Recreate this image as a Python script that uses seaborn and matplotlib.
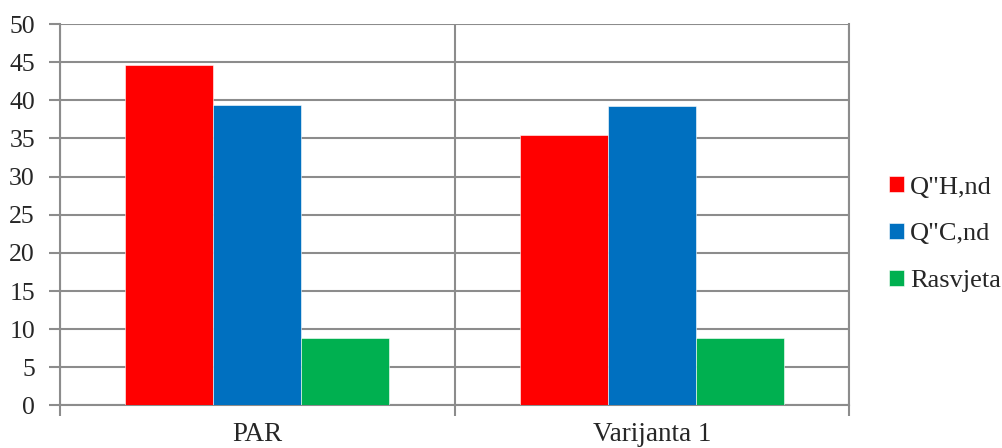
import pandas as pd
import seaborn as sns
import matplotlib.pyplot as plt
from matplotlib.ticker import FixedLocator, MultipleLocator

categories = ['PAR', 'Varijanta 1']
series = ['Q"H,nd', 'Q"C,nd', 'Rasvjeta']
q_h = [44.6, 35.4]
q_c = [39.4, 39.3]
rasvjeta = [8.9, 8.9]
colors = ['#FF0000', '#0070C0', '#00B050']

rows = []
for name, vals in zip(series, [q_h, q_c, rasvjeta]):
    for cat, v in zip(categories, vals):
        rows.append({'cat': cat, 'serija': name, 'val': v})
df = pd.DataFrame(rows)

sns.set_style('white')
plt.rcParams['font.family'] = 'serif'
plt.rcParams['font.serif'] = ['Liberation Serif', 'Times New Roman', 'DejaVu Serif']

fig = plt.figure(figsize=(10.03, 4.48), dpi=100)
ax = fig.add_axes([0.0598, 0.0949, 0.7867, 0.8515])

sns.barplot(data=df, x='cat', y='val', hue='serija', hue_order=series,
            palette=colors, saturation=1, width=0.67, gap=0, ax=ax,
            edgecolor='white', linewidth=0.4, zorder=3)

grid_c = '#8c8c8c'
ax.set_xlim(-0.5, 1.5)
ax.set_ylim(0, 50)
ax.yaxis.set_major_locator(MultipleLocator(5))
ax.yaxis.grid(True, color=grid_c, linewidth=1.5, zorder=0)
ax.xaxis.set_minor_locator(FixedLocator([-0.5, 0.5, 1.5]))
ax.xaxis.grid(True, which='minor', color=grid_c, linewidth=1.5, zorder=0)
ax.tick_params(axis='x', which='major', length=0, pad=12, labelsize=19.5)
ax.tick_params(axis='x', which='minor', length=8, width=1.5, color=grid_c, bottom=True)
ax.tick_params(axis='y', length=8, width=1.5, color=grid_c, left=True, labelsize=18.5, pad=10)
for s in ax.spines.values():
    s.set_color(grid_c)
    s.set_linewidth(1.5)
ax.spines['top'].set_visible(False)
ax.set_xlabel('')
ax.set_ylabel('')

ax.legend(loc='center left', bbox_to_anchor=(1.034, 0.449), frameon=False,
          fontsize=19, handlelength=0.55, handleheight=0.55, handletextpad=0.25,
          labelspacing=0.92, borderpad=0, title=None)

fig.savefig('out.png', dpi=100)
